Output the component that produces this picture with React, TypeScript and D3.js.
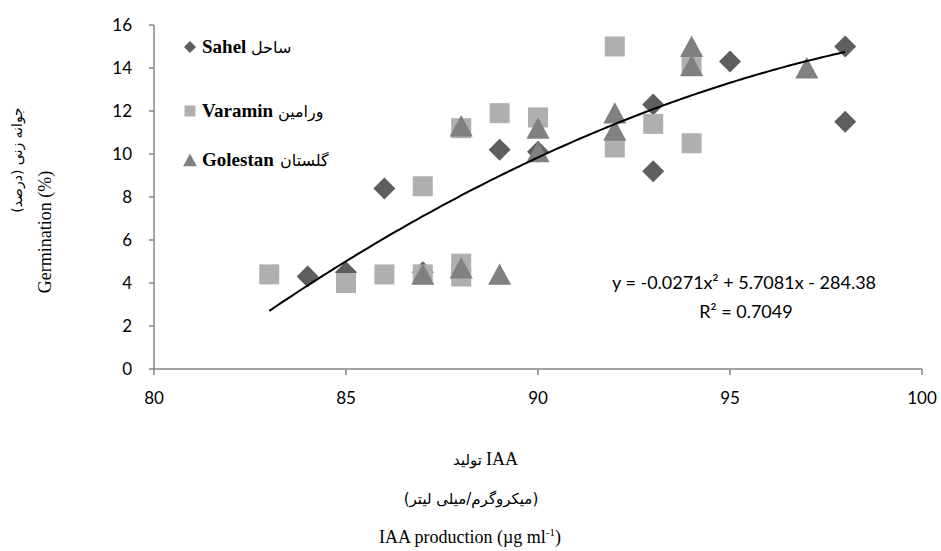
import React from "react";
import * as d3 from "d3";

// ---- data ----
const sahelX = [84, 85, 86, 87, 89, 90, 93, 93, 95, 98, 98];
const sahelY = [4.3, 4.5, 8.4, 4.5, 10.2, 10.1, 12.3, 9.2, 14.3, 15.0, 11.5];

const varaminX = [83, 85, 86, 87, 87, 88, 88, 88, 89, 90, 92, 92, 93, 94, 94];
const varaminY = [4.4, 4.0, 4.4, 8.5, 4.4, 11.2, 4.9, 4.3, 11.9, 11.7, 15.0, 10.3, 11.4, 10.5, 14.2];

const golestanX = [87, 88, 88, 89, 90, 90, 92, 92, 94, 94, 97];
const golestanY = [4.4, 4.7, 11.3, 4.4, 11.2, 10.1, 11.9, 11.1, 15.0, 14.1, 14.0];

const xTicks = [80, 85, 90, 95, 100];
const yTicks = [0, 2, 4, 6, 8, 10, 12, 14, 16];

// trendline coefficients shown on the chart: y = a x^2 + b x + c
const trendCoef = [-0.0271, 5.7081, -284.38];
const trendRange = [83, 98];

const legendNames = ["Sahel", "Varamin", "Golestan"];
const legendFa = ["ساحل", "ورامین", "گلستان"];

const W = 941;
const H = 551;

const x = d3.scaleLinear().domain([80, 100]).range([154, 922]);
const y = d3.scaleLinear().domain([0, 16]).range([369, 25]);

const C_DIAMOND = "#5e5e5e";
const C_SQUARE = "#afafaf";
const C_TRI = "#808080";

const diamond = (cx: number, cy: number, r: number) =>
  `M${cx},${cy - r}L${cx + r},${cy}L${cx},${cy + r}L${cx - r},${cy}Z`;
const square = (cx: number, cy: number, s: number) =>
  `M${cx - s},${cy - s}H${cx + s}V${cy + s}H${cx - s}Z`;
const tri = (cx: number, cy: number, s: number) =>
  `M${cx},${cy - s}L${cx + s * 1.05},${cy + s * 0.95}L${cx - s * 1.05},${cy + s * 0.95}Z`;

const RLM = "\u200F";

export default function App() {
  const trendPts = d3.range(trendRange[0], trendRange[1] + 0.001, 0.1).map((v) => [
    v,
    trendCoef[0] * v * v + trendCoef[1] * v + trendCoef[2],
  ]);
  const line = d3
    .line<number[]>()
    .x((d) => x(d[0]))
    .y((d) => y(d[1]))
    .curve(d3.curveMonotoneX);

  const tickFont = "Lato, 'Open Sans', sans-serif";
  const serif = "'Liberation Serif', 'DejaVu Serif', serif";
  const fa = "'DejaVu Sans', 'Noto Sans', sans-serif";

  const legY = [53, 117, 166];
  const legFaX = [251, 278, 280];

  return (
    <svg
      width={W}
      height={H}
      style={{ position: "absolute", left: 0, top: 0, background: "#fff" }}
    >
      <rect x={0} y={0} width={W} height={H} fill="#fff" />
      {/* axes */}
      <line x1={x(80)} x2={x(100)} y1={y(0)} y2={y(0)} stroke="#868686" strokeWidth={1.5} />
      <line x1={x(80)} x2={x(80)} y1={y(0)} y2={y(16)} stroke="#868686" strokeWidth={1.5} />
      {yTicks.map((t) => (
        <g key={"y" + t}>
          <line x1={x(80) - 5} x2={x(80)} y1={y(t)} y2={y(t)} stroke="#868686" strokeWidth={1.5} />
          <text x={132} y={y(t) + 6} textAnchor="end" fontFamily={tickFont} fontSize={17} fill="#000">
            {t}
          </text>
        </g>
      ))}
      {xTicks.map((t) => (
        <g key={"x" + t}>
          <line x1={x(t)} x2={x(t)} y1={y(0)} y2={y(0) + 6} stroke="#868686" strokeWidth={1.5} />
          <text x={x(t)} y={404} textAnchor="middle" fontFamily={tickFont} fontSize={17} fill="#000">
            {t}
          </text>
        </g>
      ))}

      {/* series */}
      {sahelX.map((v, i) => (
        <path key={"s" + i} d={diamond(x(v), y(sahelY[i]), 11)} fill={C_DIAMOND} />
      ))}
      {varaminX.map((v, i) => (
        <path key={"v" + i} d={square(x(v), y(varaminY[i]), 10)} fill={C_SQUARE} />
      ))}
      {golestanX.map((v, i) => (
        <path key={"g" + i} d={tri(x(v), y(golestanY[i]), 11)} fill={C_TRI} />
      ))}

      {/* trendline */}
      <path d={line(trendPts) || ""} fill="none" stroke="#000" strokeWidth={2} />

      {/* equation */}
      <text x={744} y={289} textAnchor="middle" fontFamily={tickFont} fontSize={18} fill="#000">
        y = -0.0271x² + 5.7081x - 284.38
      </text>
      <text x={746} y={318} textAnchor="middle" fontFamily={tickFont} fontSize={18} fill="#000">
        R² = 0.7049
      </text>

      {/* legend */}
      <path d={diamond(190, 47, 6)} fill={C_DIAMOND} />
      <path d={square(190, 111, 5.5)} fill={C_SQUARE} />
      <path d={tri(190, 160, 6.5)} fill={C_TRI} />
      {legendNames.map((n, i) => (
        <g key={"l" + i}>
          <text x={202} y={legY[i]} fontFamily={serif} fontWeight="bold" fontSize={19} fill="#000">
            {n}
          </text>
          <text x={legFaX[i]} y={legY[i]} fontFamily={fa} fontSize={16} fill="#000">
            {legendFa[i]}
          </text>
        </g>
      ))}

      {/* y axis titles */}
      <text
        transform="translate(22,160) rotate(-90)"
        textAnchor="middle"
        fontFamily={fa}
        fontSize={14}
        fill="#000"
      >
        {RLM + "جوانه زنی (درصد)" + RLM}
      </text>
      <text
        transform="translate(51,232) rotate(-90)"
        textAnchor="middle"
        fontFamily={serif}
        fontSize={18}
        fill="#000"
      >
        Germination (%)
      </text>

      {/* x axis titles */}
      <text x={482} y={465} textAnchor="end" fontFamily={fa} fontSize={15} fill="#000">
        تولید
      </text>
      <text x={486} y={465} fontFamily={serif} fontSize={18} fill="#000">
        IAA
      </text>
      <text x={471} y={504} textAnchor="middle" fontFamily={fa} fontSize={15} fill="#000">
        {RLM + "(میکروگرم/میلی لیتر)" + RLM}
      </text>
      <text x={470} y={543} textAnchor="middle" fontFamily={serif} fontSize={18} fill="#000">
        IAA production (µg ml
        <tspan fontSize={11} dy={-7}>-1</tspan>
        <tspan dy={7}>)</tspan>
      </text>
    </svg>
  );
}
